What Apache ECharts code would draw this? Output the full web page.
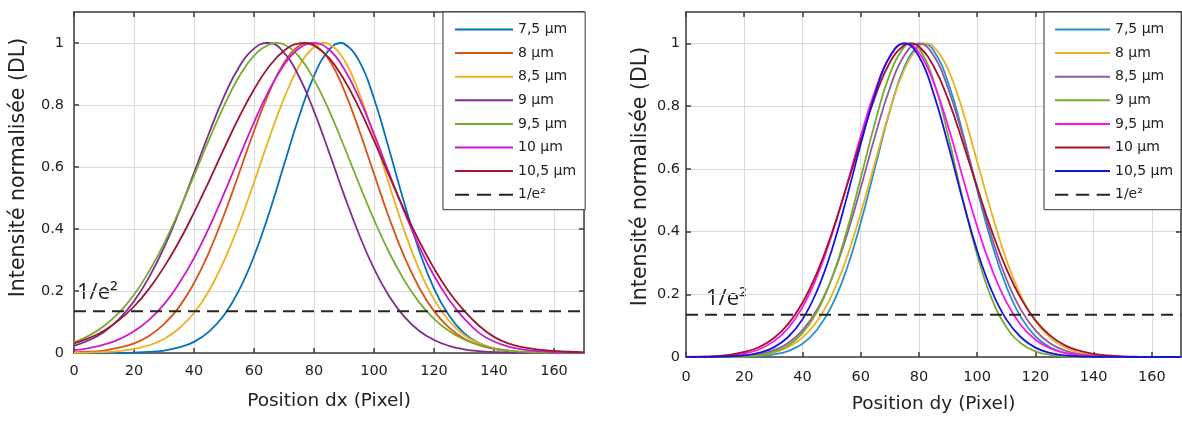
<!DOCTYPE html>
<html><head><meta charset="utf-8">
<script src="https://cdn.jsdelivr.net/npm/echarts@6.0.0/dist/echarts.min.js"></script>
<style>html,body{margin:0;padding:0;background:#fff}#c{width:1182px;height:421px}</style>
</head><body><div id="c"></div>
<script>
// ---- data ----
const xs = [0,5,10,15,20,25,30,35,40,45,50,55,60,65,70,75,80,85,90,95,100,105,110,115,120,125,130,135,140,145,150,155,160,165,170];
const legendNames = ['7,5 µm','8 µm','8,5 µm','9 µm','9,5 µm','10 µm','10,5 µm'];
const thresholdName = '1/e²';
const thresholdValue = 0.135;
const xTitleLeft = 'Position dx (Pixel)';
const xTitleRight = 'Position dy (Pixel)';
const yTitle = 'Intensité normalisée (DL)';

// Left panel (dx): peak positions (value 1) and sampled profiles
const dxPeaks = [89, 78, 83.5, 64.5, 67.5, 80, 76.5];
const dx_7_5 = [0,0,0.0002,0.0005,0.0014,0.0034,0.008,0.018,0.036,0.069,0.122,0.202,0.312,0.450,0.607,0.762,0.894,0.978,0.998,0.943,0.821,0.658,0.487,0.332,0.208,0.121,0.064,0.032,0.014,0.006,0.002,0.001,0.0003,0.0001,0];
const dx_8   = [0.002,0.004,0.008,0.017,0.031,0.055,0.093,0.148,0.225,0.325,0.445,0.579,0.716,0.840,0.936,0.991,0.995,0.946,0.849,0.720,0.578,0.437,0.313,0.212,0.135,0.082,0.047,0.025,0.013,0.006,0.003,0.001,0.0005,0.0002,0.0001];
const dx_8_5 = [0.0005,0.001,0.003,0.006,0.013,0.025,0.045,0.079,0.129,0.201,0.297,0.415,0.550,0.691,0.821,0.925,0.987,0.997,0.946,0.840,0.699,0.545,0.397,0.271,0.173,0.104,0.058,0.031,0.015,0.007,0.003,0.001,0.0005,0.0002,0.0001];
const dx_9   = [0.023,0.041,0.068,0.109,0.167,0.244,0.340,0.455,0.581,0.709,0.827,0.922,0.982,1.000,0.969,0.892,0.780,0.648,0.511,0.383,0.272,0.184,0.118,0.072,0.042,0.023,0.012,0.006,0.003,0.001,0.0005,0.0002,0.0001,0,0];
const dx_9_5 = [0.034,0.056,0.087,0.130,0.188,0.263,0.353,0.458,0.572,0.688,0.797,0.891,0.959,0.995,0.995,0.956,0.882,0.783,0.667,0.546,0.430,0.325,0.236,0.164,0.110,0.071,0.044,0.026,0.015,0.008,0.004,0.002,0.001,0.0005,0.0002];
const dx_10  = [0.009,0.016,0.027,0.044,0.070,0.107,0.157,0.224,0.306,0.404,0.514,0.630,0.744,0.847,0.929,0.982,1.000,0.979,0.917,0.823,0.707,0.581,0.458,0.345,0.249,0.172,0.112,0.065,0.037,0.020,0.011,0.006,0.003,0.002,0.001];
const dx_10_5= [0.031,0.048,0.072,0.106,0.150,0.207,0.277,0.359,0.453,0.554,0.659,0.760,0.850,0.924,0.975,0.999,0.992,0.952,0.882,0.791,0.685,0.573,0.463,0.362,0.273,0.197,0.137,0.088,0.052,0.030,0.018,0.011,0.007,0.004,0.002];

// Right panel (dy)
const dyPeaks = [81.5, 82.5, 80, 77.5, 75.5, 77, 75];
const dy_7_5 = [0,0,0.0001,0.0003,0.001,0.003,0.008,0.019,0.042,0.087,0.162,0.275,0.428,0.607,0.784,0.925,0.996,0.978,0.876,0.716,0.533,0.363,0.225,0.127,0.066,0.031,0.013,0.005,0.002,0.0006,0.0002,0,0,0,0];
const dy_8   = [0,0.0001,0.0003,0.001,0.002,0.006,0.014,0.031,0.062,0.114,0.196,0.311,0.458,0.623,0.786,0.917,0.990,0.990,0.917,0.786,0.623,0.458,0.311,0.196,0.114,0.062,0.031,0.014,0.006,0.002,0.001,0.0003,0.0001,0,0];
const dy_8_5 = [0.0001,0.0002,0.0005,0.0015,0.004,0.009,0.021,0.044,0.085,0.151,0.249,0.381,0.539,0.707,0.857,0.962,1.000,0.962,0.857,0.707,0.539,0.381,0.249,0.151,0.085,0.044,0.021,0.009,0.004,0.0015,0.0005,0.0002,0.0001,0,0];
const dy_9   = [0,0.0001,0.0002,0.0008,0.002,0.006,0.016,0.036,0.076,0.144,0.249,0.395,0.570,0.750,0.902,0.989,0.986,0.882,0.707,0.506,0.325,0.186,0.096,0.044,0.018,0.007,0.002,0.0006,0.0002,0,0,0,0,0,0];
const dy_9_5 = [0.0002,0.0007,0.002,0.005,0.011,0.024,0.049,0.091,0.159,0.257,0.387,0.541,0.704,0.851,0.957,1.000,0.971,0.876,0.736,0.574,0.416,0.281,0.176,0.102,0.055,0.028,0.013,0.006,0.002,0.001,0.0003,0.0001,0,0,0];
const dy_10  = [0.0005,0.001,0.003,0.007,0.016,0.031,0.059,0.104,0.173,0.269,0.393,0.538,0.690,0.831,0.939,0.995,0.990,0.928,0.822,0.686,0.541,0.402,0.282,0.187,0.117,0.069,0.038,0.020,0.010,0.005,0.002,0.001,0.0003,0.0001,0];
const dy_10_5= [0.0001,0.0002,0.0007,0.002,0.005,0.013,0.030,0.063,0.120,0.211,0.339,0.501,0.678,0.841,0.958,1.000,0.958,0.841,0.678,0.501,0.339,0.211,0.120,0.063,0.030,0.013,0.005,0.002,0.0007,0.0002,0.0001,0,0,0,0];

const dxColors = ['#0072BD','#D95319','#EDB120','#7E2F8E','#77AC30','#CC1ACC','#9B1830'];
const dyColors = ['#2592CF','#EDB120','#8F5A9F','#77AC30','#FF10F0','#A2142F','#1414E0'];

// ---- build ----
const dxValues = [dx_7_5, dx_8, dx_8_5, dx_9, dx_9_5, dx_10, dx_10_5];
const dyValues = [dy_7_5, dy_8, dy_8_5, dy_9, dy_9_5, dy_10, dy_10_5];

const textColor = '#222222';
const font = 'DejaVu Sans';
const axisLine = {color:'#3c3c3c', width:1.5};

function profile(vals, peak) {
  const pts = xs.map((x,i) => [x, vals[i]]);
  if (xs.indexOf(peak) >= 0) { pts[xs.indexOf(peak)][1] = 1; return pts; }
  const k = xs.findIndex(x => x > peak);
  pts.splice(k, 0, [peak, 1]);
  return pts;
}
function curves(prefix, values, peaks, colors, g) {
  return values.map((vals, k) => ({
    type:'line', name: prefix + legendNames[k],
    xAxisIndex: g*2, yAxisIndex: g*2,
    data: profile(vals, peaks[k]),
    smooth: 0.45, symbol:'none', clip:true,
    lineStyle:{color:colors[k], width:1.8}, itemStyle:{color:colors[k]}
  }));
}
function threshold(prefix, g) {
  return {
    type:'line', name: prefix + thresholdName,
    xAxisIndex: g*2, yAxisIndex: g*2,
    data: [[xs[0], thresholdValue], [xs[xs.length-1], thresholdValue]],
    symbol:'none',
    lineStyle:{color:'#262626', width:2, type:[12,7]}, itemStyle:{color:'#262626'}
  };
}
function xAxes(g, title, labelMargin, nameGap) {
  return [{
    type:'value', gridIndex:g, min:0, max:170, interval:20, position:'bottom',
    axisLine:{show:true, onZero:false, lineStyle:axisLine},
    axisTick:{show:true, inside:true, length:5, lineStyle:axisLine},
    axisLabel:{showMaxLabel:false, margin:labelMargin, fontFamily:font, fontSize:14.5, color:textColor},
    splitLine:{show:true, lineStyle:{color:'#dcdcdc', width:1}},
    name:title, nameLocation:'middle', nameGap:nameGap,
    nameTextStyle:{fontFamily:font, fontSize:18.5, color:textColor, lineHeight:22}
  },{
    type:'value', gridIndex:g, min:0, max:170, interval:20, position:'top',
    axisLine:{show:true, onZero:false, lineStyle:axisLine},
    axisTick:{show:true, inside:true, length:5, lineStyle:axisLine},
    axisLabel:{show:false}, splitLine:{show:false}
  }];
}
function yAxes(g, labelMargin, nameGap, shift) {
  return [{
    type:'value', gridIndex:g, min:0, max:1.1, interval:0.2, position:'left',
    axisLine:{show:true, onZero:false, lineStyle:axisLine},
    axisTick:{show:true, inside:true, length:5, lineStyle:axisLine},
    axisLabel:{showMaxLabel:false, margin:labelMargin, fontFamily:font, fontSize:14.5, color:textColor,
      formatter: v => String(Math.round(v*10)/10)},
    splitLine:{show:true, lineStyle:{color:'#dcdcdc', width:1}},
    name:yTitle, nameLocation:'middle', nameGap:nameGap,
    nameTextStyle:{fontFamily:font, fontSize:20.5, color:textColor, lineHeight:24, padding:[0,0,0,shift]}
  },{
    type:'value', gridIndex:g, min:0, max:1.1, interval:0.2, position:'right',
    axisLine:{show:true, onZero:false, lineStyle:axisLine},
    axisTick:{show:true, inside:true, length:5, lineStyle:axisLine},
    axisLabel:{show:false}, splitLine:{show:false}
  }];
}
const solidIcon = w => 'path://M0,0H' + w + 'V2H0Z';
const dashIcon = w => { const d = w/58*14, s = w/58*22; return 'path://M0,0H'+d+'V2H0ZM'+s+',0H'+(s+d)+'V2H'+s+'ZM'+(2*s)+',0H'+w+'V2H'+(2*s)+'Z'; };
function legend(prefix, left, iw, padding) {
  return {
    orient:'vertical', left:left, top:12, padding:padding, itemGap:9.6,
    itemWidth:iw, itemHeight:2, selectedMode:false,
    backgroundColor:'#ffffff', borderColor:'#333333', borderWidth:1,
    itemStyle:{borderWidth:0},
    textStyle:{fontFamily:font, fontSize:14, color:textColor, lineHeight:14},
    formatter: n => n.slice(prefix.length),
    data: legendNames.map(n => ({name: prefix + n, icon: solidIcon(iw)}))
           .concat([{name: prefix + thresholdName, icon: dashIcon(iw)}])
  };
}

const chart = echarts.init(document.getElementById('c'), null, {renderer:'canvas'});
chart.setOption({
  animation:false,
  backgroundColor:'#ffffff',
  grid:[
    {left:74, top:12, width:510, height:341},
    {left:686, top:12, width:495, height:345}
  ],
  xAxis: xAxes(0, xTitleLeft, 11, 37).concat(xAxes(1, xTitleRight, 13, 36)),
  yAxis: yAxes(0, 10, 43, 30).concat(yAxes(1, 6, 30, 16)),
  legend:[
    legend('dx|', 443, 58, [10.5, 9, 8, 12]),
    legend('dy|', 1044, 55, [10.5, 8, 8, 11])
  ],
  graphic:[
    {type:'text', left:77, top:282, style:{text:thresholdName, font:'22px "Open Sans"', fill:textColor}},
    {type:'text', left:706, top:288, style:{text:thresholdName, font:'22px "Open Sans"', fill:textColor}}
  ],
  series: curves('dx|', dxValues, dxPeaks, dxColors, 0).concat([threshold('dx|', 0)])
    .concat(curves('dy|', dyValues, dyPeaks, dyColors, 1)).concat([threshold('dy|', 1)])
});
</script></body></html>
